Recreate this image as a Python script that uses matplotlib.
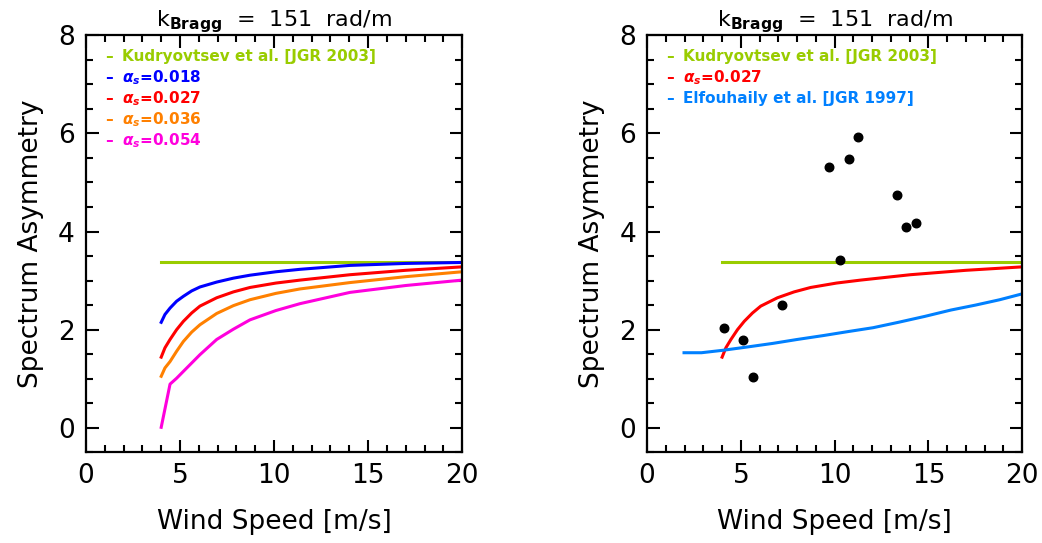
import matplotlib.pyplot as plt
from matplotlib.ticker import MultipleLocator

plt.rcParams['font.family'] = ['DejaVu Sans']

# left panel: model curves for several alpha_s
wind = [4.0, 4.2, 4.47, 4.82, 5.18, 5.62, 6.06, 6.95, 7.84, 8.72, 10.1, 11.38, 14.04, 17.0, 20.0]
kudr = [3.38] * len(wind)
a018 = [2.15, 2.31, 2.44, 2.58, 2.68, 2.79, 2.87, 2.97, 3.05, 3.11, 3.18, 3.23, 3.31, 3.35, 3.37]
a027 = [1.44, 1.63, 1.80, 2.00, 2.17, 2.34, 2.48, 2.65, 2.77, 2.86, 2.95, 3.01, 3.12, 3.21, 3.28]
a036 = [1.05, 1.22, 1.35, 1.56, 1.76, 1.95, 2.10, 2.33, 2.49, 2.61, 2.74, 2.83, 2.96, 3.08, 3.18]
wind_054 = [4.0, 4.47, 4.82, 5.18, 5.62, 6.06, 6.95, 7.84, 8.72, 10.1, 11.38, 14.04, 17.0, 20.0]
a054 = [0.01, 0.89, 1.01, 1.15, 1.32, 1.49, 1.80, 2.01, 2.20, 2.39, 2.53, 2.76, 2.90, 3.01]

# right panel
elf_wind = [1.97, 2.9, 4.05, 5.4, 6.7, 8.0, 9.4, 10.7, 12.05, 13.4, 14.8, 16.2, 17.5, 18.8, 20.0]
elf = [1.53, 1.53, 1.58, 1.65, 1.72, 1.80, 1.88, 1.96, 2.04, 2.15, 2.27, 2.40, 2.50, 2.61, 2.73]
obs_wind = [4.12, 5.12, 5.63, 7.18, 9.72, 10.79, 11.27, 10.27, 13.31, 13.83, 14.35]
obs_asym = [2.03, 1.78, 1.03, 2.50, 5.31, 5.47, 5.93, 3.41, 4.75, 4.10, 4.17]

green = '#99cc00'
blue = '#0000ff'
red = '#ff0000'
orange = '#ff8000'
pink = '#ff00dd'
lblue = '#0080ff'

alpha = r'$\mathbfit{\alpha}_{\mathbfit{s}}$'
left_labels = ['Kudryovtsev et al. [JGR 2003]', alpha + '=0.018', alpha + '=0.027',
               alpha + '=0.036', alpha + '=0.054']
left_colors = [green, blue, red, orange, pink]
right_labels = ['Kudryovtsev et al. [JGR 2003]', alpha + '=0.027', 'Elfouhaily et al. [JGR 1997]']
right_colors = [green, red, lblue]

fig = plt.figure(figsize=(10.42, 5.43), dpi=100)
ax1 = fig.add_axes([0.0825, 0.167, 0.361, 0.768])
ax2 = fig.add_axes([0.621, 0.167, 0.360, 0.768])

ax1.plot(wind, kudr, color=green, lw=2.2)
ax1.plot(wind, a018, color=blue, lw=2.2)
ax1.plot(wind, a027, color=red, lw=2.2)
ax1.plot(wind, a036, color=orange, lw=2.2)
ax1.plot(wind_054, a054, color=pink, lw=2.2)

ax2.plot(wind, kudr, color=green, lw=2.2)
ax2.plot(wind, a027, color=red, lw=2.2)
ax2.plot(elf_wind, elf, color=lblue, lw=2.2)
ax2.scatter(obs_wind, obs_asym, s=38, color='black', zorder=3)


def legend_text(ax, labels, colors):
    for i, (lab, col) in enumerate(zip(labels, colors)):
        y = 0.95 - i * 0.0505
        ax.text(0.05, y, '–', color=col, transform=ax.transAxes, fontsize=11,
                fontweight='bold', va='center')
        ax.text(0.095, y, lab, color=col, transform=ax.transAxes, fontsize=11,
                fontweight='bold', va='center')


legend_text(ax1, left_labels, left_colors)
legend_text(ax2, right_labels, right_colors)

for ax in (ax1, ax2):
    ax.set_xlim(0, 20)
    ax.set_ylim(-0.5, 8)
    ax.xaxis.set_major_locator(MultipleLocator(5))
    ax.xaxis.set_minor_locator(MultipleLocator(1))
    ax.yaxis.set_major_locator(MultipleLocator(2))
    ax.yaxis.set_minor_locator(MultipleLocator(0.5))
    ax.tick_params(which='both', direction='in', top=True, right=True, width=1.5)
    ax.tick_params(which='major', length=9, labelsize=19, pad=8)
    ax.tick_params(which='minor', length=5)
    for s in ax.spines.values():
        s.set_linewidth(1.6)
    ax.set_xlabel('Wind Speed [m/s]', fontsize=19, labelpad=14)
    ax.set_ylabel('Spectrum Asymmetry', fontsize=19, labelpad=10)
    ax.set_title(r'k$_{\mathbf{Bragg}}$  =  151  rad/m', fontsize=16, pad=6)

fig.savefig('out.png', dpi=100)
